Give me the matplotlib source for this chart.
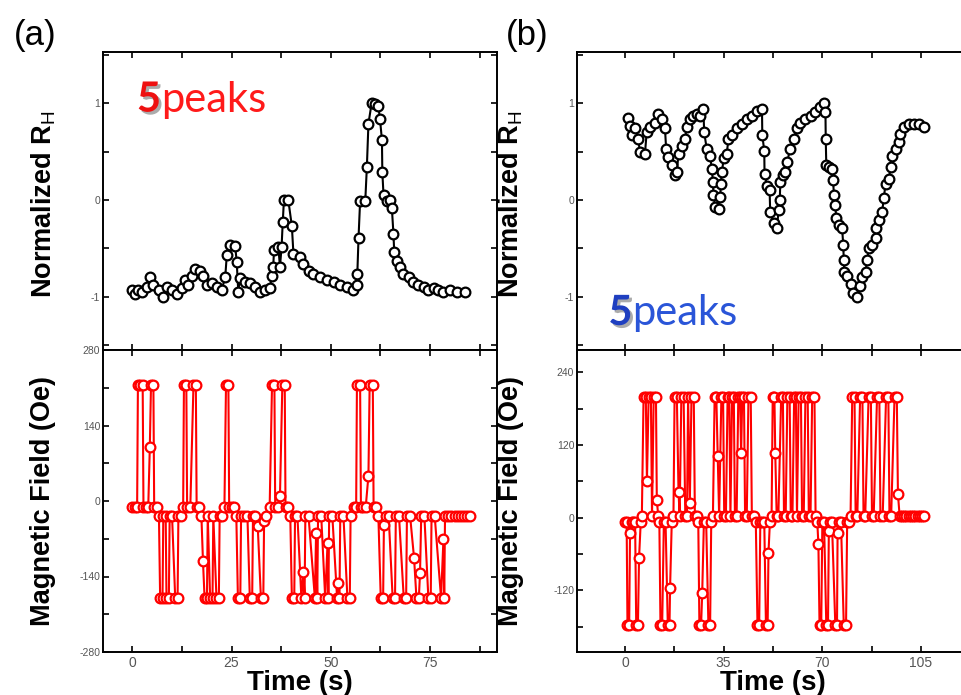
import matplotlib
matplotlib.use('Agg')
import matplotlib.pyplot as plt
import matplotlib.patheffects as pe
from matplotlib.ticker import MultipleLocator

plt.rcParams['font.family'] = ['Liberation Sans', 'DejaVu Sans']
plt.rcParams['mathtext.fontset'] = 'custom'
plt.rcParams['mathtext.rm'] = 'Liberation Sans'
plt.rcParams['mathtext.bf'] = 'Liberation Sans:bold'
plt.rcParams['axes.unicode_minus'] = False

# (a) normalized Hall resistance
t_a_rh = [0.0, 0.7, 1.5, 2.4, 3.6, 4.5, 5.3, 6.6, 7.8, 8.7, 9.9, 11.2, 12.4, 13.3, 14.1,
          15.0, 15.8, 17.1, 17.9, 18.7, 20.0, 21.3, 22.5, 23.4, 23.8, 24.6, 25.9, 26.3,
          26.7, 27.1, 28.4, 29.7, 30.9, 32.2, 33.4, 34.7, 35.1, 35.5, 35.7, 36.8, 37.2,
          37.6, 37.9, 38.2, 39.3, 40.2, 40.6, 42.3, 43.1, 44.4, 45.6, 47.3, 49.0, 50.7,
          52.4, 54.0, 55.7, 56.6, 56.7, 57.0, 57.4, 58.7, 59.1, 59.5, 60.3, 61.2, 62.0,
          62.4, 62.9, 63.0, 63.3, 64.1, 65.0, 65.4, 65.8, 66.0, 66.6, 67.5, 68.3, 69.6,
          70.8, 72.1, 73.4, 74.6, 75.9, 77.1, 78.4, 80.1, 81.8, 83.9]
rh_a = [-0.93, -0.97, -0.93, -0.95, -0.90, -0.80, -0.88, -0.93, -1.00, -0.90, -0.93, -0.97,
        -0.91, -0.83, -0.88, -0.78, -0.71, -0.73, -0.78, -0.88, -0.86, -0.90, -0.93, -0.80,
        -0.57, -0.46, -0.47, -0.64, -0.95, -0.81, -0.85, -0.86, -0.90, -0.95, -0.93, -0.91,
        -0.78, -0.69, -0.52, -0.49, -0.69, -0.49, -0.23, 0.00, 0.00, -0.27, -0.56, -0.59,
        -0.66, -0.73, -0.76, -0.80, -0.83, -0.85, -0.88, -0.90, -0.93, -0.88, -0.76, -0.39,
        -0.01, -0.01, 0.34, 0.79, 1.00, 0.99, 0.97, 0.84, 0.62, 0.29, 0.05, -0.01, 0.00,
        -0.08, -0.35, -0.54, -0.63, -0.69, -0.76, -0.80, -0.85, -0.88, -0.90, -0.93, -0.91,
        -0.93, -0.95, -0.93, -0.95, -0.95]

# (a) magnetic field
t_a_field = [0.0, 0.6, 1.2, 1.4, 2.0, 2.6, 2.8, 3.4, 4.0, 4.4, 4.7, 5.3, 5.5, 6.1, 6.7, 7.0,
             7.6, 7.8, 8.4, 8.6, 9.2, 9.4, 10.0, 10.8, 11.4, 11.6, 12.2, 12.8, 13.0, 13.6,
             13.8, 14.6, 15.4, 16.0, 16.2, 16.8, 17.4, 17.8, 18.2, 18.8, 19.0, 19.6, 20.2,
             20.4, 21.2, 21.8, 22.0, 22.6, 23.2, 23.6, 24.2, 24.4, 25.0, 25.6, 26.2, 26.6,
             27.2, 27.4, 28.2, 29.0, 29.6, 30.2, 30.4, 31.0, 31.6, 32.4, 33.0, 33.2, 33.8,
             34.6, 35.2, 35.8, 36.0, 36.6, 37.2, 37.8, 38.4, 38.6, 39.2, 39.8, 40.2, 40.8,
             41.0, 41.6, 42.6, 43.1, 43.4, 43.6, 44.4, 46.0, 46.3, 46.6, 46.8, 47.6, 48.6,
             49.2, 49.4, 49.6, 50.4, 51.6, 51.9, 52.2, 52.4, 53.2, 54.2, 54.8, 55.0, 55.8,
             56.4, 56.6, 57.4, 57.6, 58.2, 58.8, 59.5, 59.8, 60.6, 60.8, 61.4, 62.0, 62.6,
             63.2, 63.4, 64.0, 64.6, 65.6, 66.2, 66.4, 67.2, 68.4, 69.0, 69.2, 70.0, 71.0,
             71.6, 72.2, 72.5, 72.8, 73.6, 74.6, 75.2, 75.4, 76.2, 77.8, 78.4, 78.6, 78.8,
             79.6, 80.4, 81.2, 82.0, 82.8, 83.6, 84.4, 85.0]
field_a = [-12, -12, -12, 215, 215, 215, -12, -12, -12, 100, 215, 215, -12, -12, -28, -180,
           -180, -28, -28, -180, -180, -28, -28, -180, -180, -28, -28, -12, 215, 215,
           -12, -12, 215, 215, -12, -12, -28, -112, -180, -180, -28, -180, -180,
           -28, -180, -180, -28, -28, -12, 215, 215, -12, -12, -12, -28, -180,
           -180, -28, -28, -28, -180, -180, -28, -28, -47, -180, -180, -38, -28,
           -12, 215, 215, -12, -12, 9, 215, 215, -12, -12, -28, -180, -180,
           -28, -28, -180, -131, -180, -28, -28, -180, -59, -180, -28, -28, -180,
           -78, -180, -28, -28, -180, -152, -180, -28, -28, -180, -180, -28, -12,
           -12, 215, 215, -12, -12, -12, 47, 215, 215, -12, -12, -28, -180,
           -180, -45, -28, -28, -180, -180, -28, -28, -180, -180, -28, -28, -106,
           -180, -180, -134, -28, -28, -180, -180, -28, -28, -180, -71, -180, -28,
           -28, -28, -28, -28, -28, -28, -28, -28]

# (b) normalized Hall resistance
t_b_rh = [1.2, 1.8, 2.4, 3.6, 4.7, 5.3, 7.1, 7.7, 8.9, 10.7, 11.8, 13.0, 14.2, 14.6, 15.4,
          16.6, 17.8, 18.4, 19.0, 20.1, 21.3, 21.9, 23.1, 24.3, 25.5, 26.7, 27.8, 28.1,
          29.0, 30.2, 30.8, 31.2, 31.4, 32.0, 33.2, 33.8, 34.0, 34.4, 35.0, 36.1, 36.7,
          37.9, 39.7, 41.5, 43.2, 45.0, 46.8, 48.6, 48.7, 49.4, 49.5, 50.4, 51.3, 51.5,
          52.7, 53.9, 54.5, 54.9, 55.1, 56.0, 56.9, 57.5, 58.6, 59.8, 61.0, 62.2, 64.0,
          65.8, 67.5, 69.3, 70.5, 71.1, 71.2, 71.4, 72.3, 73.5, 73.8, 74.1, 74.6, 74.9,
          75.8, 77.0, 77.4, 77.6, 77.8, 78.8, 80.0, 80.9, 82.3, 83.5, 84.1, 85.3, 85.9,
          86.5, 87.7, 88.9, 89.2, 90.0, 91.2, 91.8, 92.4, 93.6, 94.2, 94.8, 96.0, 97.2,
          97.7, 98.9, 100.7, 102.5, 104.3, 106.0]
rh_b = [0.85, 0.77, 0.67, 0.74, 0.63, 0.50, 0.48, 0.70, 0.75, 0.80, 0.89, 0.84, 0.74, 0.53,
        0.44, 0.36, 0.26, 0.29, 0.48, 0.56, 0.63, 0.75, 0.84, 0.87, 0.89, 0.87, 0.94, 0.70,
        0.53, 0.46, 0.32, 0.19, 0.05, -0.07, -0.09, 0.03, 0.17, 0.29, 0.43, 0.48, 0.63,
        0.67, 0.74, 0.79, 0.84, 0.87, 0.92, 0.94, 0.67, 0.51, 0.27, 0.15, 0.10, -0.12,
        -0.24, -0.29, -0.10, 0.00, 0.19, 0.26, 0.29, 0.39, 0.53, 0.63, 0.74, 0.80, 0.84,
        0.87, 0.91, 0.96, 1.00, 0.91, 0.63, 0.36, 0.34, 0.32, 0.21, 0.05, -0.05, -0.19,
        -0.26, -0.29, -0.46, -0.62, -0.74, -0.79, -0.87, -0.96, -1.00, -0.89, -0.80, -0.74,
        -0.62, -0.50, -0.46, -0.39, -0.29, -0.21, -0.12, 0.02, 0.17, 0.22, 0.34, 0.46, 0.53,
        0.60, 0.68, 0.75, 0.79, 0.79, 0.79, 0.75]

# (b) magnetic field
t_b_field = [0.0, 0.6, 0.9, 1.5, 1.8, 2.4, 3.0, 3.6, 4.0, 4.6, 5.0, 5.6, 6.0, 6.6, 7.4, 7.8,
             8.4, 9.2, 9.6, 10.2, 11.0, 11.3, 11.8, 12.2, 12.6, 13.2, 13.8, 14.4, 15.2,
             15.8, 16.0, 16.6, 17.2, 17.6, 18.4, 19.0, 19.4, 20.0, 20.8, 21.4, 22.0, 22.4,
             23.0, 23.6, 24.4, 24.8, 25.4, 26.0, 26.4, 27.0, 27.4, 28.0, 28.8, 29.6, 30.2,
             30.6, 31.2, 31.8, 32.4, 32.9, 33.4, 34.2, 34.8, 35.2, 35.8, 36.4, 37.0, 37.4,
             38.0, 38.6, 39.0, 39.6, 40.2, 40.8, 41.2, 41.6, 42.2, 42.6, 43.2, 43.8, 44.6,
             45.0, 45.8, 46.4, 47.0, 47.6, 48.0, 48.6, 49.4, 50.0, 50.6, 50.9, 51.4, 52.0,
             52.4, 53.0, 53.3, 53.8, 54.4, 55.4, 56.0, 56.4, 57.0, 57.6, 58.4, 58.8, 59.4,
             60.0, 60.6, 61.0, 61.6, 62.4, 62.8, 63.4, 64.0, 64.8, 65.2, 65.8, 66.4, 67.2,
             67.6, 68.2, 68.6, 69.0, 69.6, 70.0, 70.6, 71.4, 72.0, 72.3, 72.8, 73.4, 74.6,
             75.2, 75.4, 76.0, 76.6, 77.6, 78.4, 78.8, 79.4, 80.0, 80.6, 81.4, 81.8, 82.4,
             83.4, 84.2, 84.6, 85.2, 86.4, 87.2, 87.6, 88.2, 89.4, 90.2, 90.6, 91.4, 92.6,
             93.4, 93.8, 94.4, 95.6, 96.4, 96.8, 97.4, 98.2, 99.0, 99.8, 100.6, 101.4, 102.2,
             103.0, 103.8, 104.6, 105.4, 106.0]
field_b = [-7, -7, -178, -178, -26, -7, -7, -7, -178, -178, -67, -7, 3, 200, 200, 60,
           200, 200, 3, 200, 200, 29, 3, -7, -178, -178, -7, -7, -178,
           -178, -117, -7, 3, 200, 200, 42, 3, 200, 200, 3, 3, 200,
           24, 200, 200, 3, 3, -7, -178, -178, -124, -7, -7, -178, -178,
           -7, 3, 200, 200, 102, 3, 200, 200, 3, 3, 200, 200, 3,
           200, 200, 3, 3, 200, 200, 107, 200, 200, 3, 3, 200, 200,
           3, 3, -7, -178, -178, -7, -7, -7, -178, -178, -58, -7, 3,
           200, 200, 107, 3, 3, 200, 200, 3, 3, 200, 200, 3, 3,
           200, 200, 3, 200, 200, 3, 3, 200, 200, 3, 3, 200, 200,
           3, -7, -44, -178, -178, -7, -7, -178, -178, -22, -7, -7, -178,
           -178, -25, -7, -7, -178, -178, -7, -7, 3, 200, 200, 3, 3,
           200, 200, 3, 3, 200, 200, 3, 3, 200, 200, 3, 3, 200,
           200, 3, 3, 200, 200, 39, 3, 3, 3, 3, 3, 3, 3,
           3, 3, 3, 3, 3]

W, H = 961, 695
fig = plt.figure(figsize=(W / 100, H / 100), dpi=100)


def box(x0, y0, x1, y1):
    # pixel box (top-left origin) -> figure fraction rect
    return [x0 / W, 1 - y1 / H, (x1 - x0) / W, (y1 - y0) / H]


ax_a1 = fig.add_axes(box(103, 52, 497, 350))
ax_a2 = fig.add_axes(box(103, 350, 497, 652))
ax_b1 = fig.add_axes(box(577, 52, 969, 350))
ax_b2 = fig.add_axes(box(577, 350, 969, 652))

line_kw = dict(marker='o', ms=7, mfc='white', mew=1.6, lw=1.5)
ax_a1.plot(t_a_rh, rh_a, color='black', mec='black', **line_kw)
ax_a2.plot(t_a_field, field_a, color='#ff0000', mec='#ff0000', **line_kw)
ax_b1.plot(t_b_rh, rh_b, color='black', mec='black', **line_kw)
ax_b2.plot(t_b_field, field_b, color='#ff0000', mec='#ff0000', **line_kw)


def style(ax, xmaj, ymaj, xlim, ylim, bottom_labels):
    ax.set_xlim(*xlim)
    ax.set_ylim(*ylim)
    ax.xaxis.set_major_locator(MultipleLocator(xmaj))
    ax.xaxis.set_minor_locator(MultipleLocator(xmaj / 2))
    ax.yaxis.set_major_locator(MultipleLocator(ymaj))
    ax.yaxis.set_minor_locator(MultipleLocator(ymaj / 2))
    ax.tick_params(which='both', direction='in', top=True, right=True,
                   length=4, width=1.2, colors='black', labelcolor='#555555')
    ax.tick_params(axis='y', labelsize=7.5, pad=2)
    ax.tick_params(axis='x', labelsize=10, pad=3, labelbottom=bottom_labels)
    for s in ax.spines.values():
        s.set_linewidth(1.4)


style(ax_a1, 25, 1, (-7.4, 91.9), (-1.55, 1.53), False)
style(ax_a2, 25, 140, (-7.4, 91.9), (-280, 280), True)
style(ax_b1, 35, 1, (-17, 122), (-1.55, 1.53), False)
style(ax_b2, 35, 120, (-17, 122), (-222, 277), True)

lab_kw = dict(fontsize=19.5, fontweight='bold')
for ax, lx in ((ax_a1, -0.114), (ax_b1, -0.132)):
    ax.set_ylabel(r'Normalized R$_\mathrm{H}$', **lab_kw)
    ax.yaxis.set_label_coords(lx, 0.49)
for ax, lx in ((ax_a2, -0.119), (ax_b2, -0.135)):
    ax.set_ylabel('Magnetic Field (Oe)', **lab_kw)
    ax.yaxis.set_label_coords(lx, 0.5)
    ax.set_xlabel('Time (s)', fontsize=20, fontweight='bold')
    ax.xaxis.set_label_coords(0.5, -0.06)

fig.text(35 / W, 1 - 35 / H, '(a)', fontsize=25, ha='center', va='center')
fig.text(527 / W, 1 - 35 / H, '(b)', fontsize=25, ha='center', va='center')

shadow = [pe.withSimplePatchShadow(offset=(2, -2), shadow_rgbFace='#888888', alpha=0.7)]
for ax, x, y, c5, c in ((ax_a1, 0.086, 0.80, '#ee1111', '#ff1a1a'),
                        (ax_b1, 0.08, 0.084, '#1f3fc0', '#2a55d8')):
    t5 = ax.text(x, y, '5', transform=ax.transAxes, fontsize=30, fontweight='bold',
                 color=c5, family=['Lato', 'DejaVu Sans'], va='baseline',
                 path_effects=shadow)
    ax.annotate('peaks', xy=(1, 0), xycoords=t5, va='bottom', fontsize=30,
                color=c, family=['Lato', 'DejaVu Sans'])

fig.savefig('out.png', dpi=100)
